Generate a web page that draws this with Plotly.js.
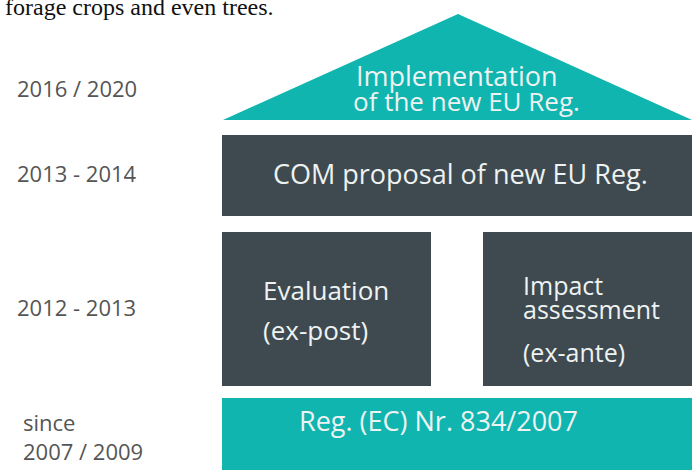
<!DOCTYPE html>
<html>
<head>
<meta charset="utf-8">
<script src="https://cdn.plot.ly/plotly-3.0.1.min.js"></script>
<style>
  html, body { margin: 0; padding: 0; background: #fff; }
  #chart { width: 696px; height: 470px; }
</style>
</head>
<body>
<div id="chart"></div>
<script>
// house diagram: roof (triangle) + three tiers of boxes
var periodLabels = ['2016 / 2020', '2013 - 2014', '2012 - 2013', 'since<br>2007 / 2009'];
var periodY = [88, 173, 307, 436];
var periodX = [15, 15, 15, 21];

var blockNames = ['COM proposal', 'Evaluation', 'Impact assessment', 'Reg. 834/2007'];
var blockX0 = [222, 222, 483, 222];
var blockX1 = [692, 431, 692, 692];
var blockY0 = [135, 232, 232, 398];
var blockY1 = [216, 386, 386, 470];
var blockColor = ['#3e4a4f', '#3e4a4f', '#3e4a4f', '#0fb5ae'];

var roofX = [223, 458, 692];
var roofY = [120, 14, 120];

var boxTexts = ['Implementation', 'of the new EU Reg.', 'COM proposal of new EU Reg.',
                'Evaluation', '(ex-post)', 'Impact', 'assessment', '(ex-ante)', 'Reg. (EC) Nr. 834/2007'];
var boxTextX = [457, 466, 460, 261, 261, 521, 521, 521, 438];
var boxTextY = [75, 101, 173, 290, 330, 285, 309, 352, 420];
var boxTextAlign = ['center', 'center', 'center', 'left', 'left', 'left', 'left', 'left', 'center'];
var boxTextSize = [27, 26, 27, 26, 26, 25, 25, 25, 27];

var headerText = 'forage crops and even trees.';

var teal = '#0fb5ae';
var data = [];
data.push({x: roofX.concat([roofX[0]]), y: roofY.concat([roofY[0]]), mode: 'lines',
           fill: 'toself', fillcolor: teal, line: {width: 0, color: teal}, hoverinfo: 'skip'});
for (var i = 0; i < blockNames.length; i++) {
  data.push({x: [blockX0[i], blockX1[i], blockX1[i], blockX0[i], blockX0[i]],
             y: [blockY0[i], blockY0[i], blockY1[i], blockY1[i], blockY0[i]],
             mode: 'lines', fill: 'toself', fillcolor: blockColor[i],
             line: {width: 0, color: blockColor[i]}, name: blockNames[i], hoverinfo: 'skip'});
}

var annotations = [];
for (var i = 0; i < periodLabels.length; i++) {
  annotations.push({x: periodX[i], y: periodY[i], text: periodLabels[i], showarrow: false,
                    xanchor: 'left', yanchor: 'middle', align: 'left',
                    font: {family: 'Open Sans', size: 22, color: '#555555'}});
}
for (var i = 0; i < boxTexts.length; i++) {
  annotations.push({x: boxTextX[i], y: boxTextY[i], text: boxTexts[i], showarrow: false,
                    xanchor: boxTextAlign[i], yanchor: 'middle',
                    font: {family: 'Open Sans', size: boxTextSize[i], color: '#eef2f2'}});
}
annotations.push({x: 3, y: 11, text: headerText, showarrow: false, xanchor: 'left', yanchor: 'bottom',
                  yshift: -11, font: {family: 'Liberation Serif', size: 24, color: '#111111'}});

var layout = {
  width: 696, height: 470,
  margin: {l: 0, r: 0, t: 0, b: 0, pad: 0},
  showlegend: false,
  paper_bgcolor: '#ffffff', plot_bgcolor: '#ffffff',
  xaxis: {range: [0, 696], visible: false, fixedrange: true},
  yaxis: {range: [470, 0], visible: false, fixedrange: true},
  annotations: annotations
};
Plotly.newPlot('chart', data, layout, {displayModeBar: false, staticPlot: true});
</script>
</body>
</html>
